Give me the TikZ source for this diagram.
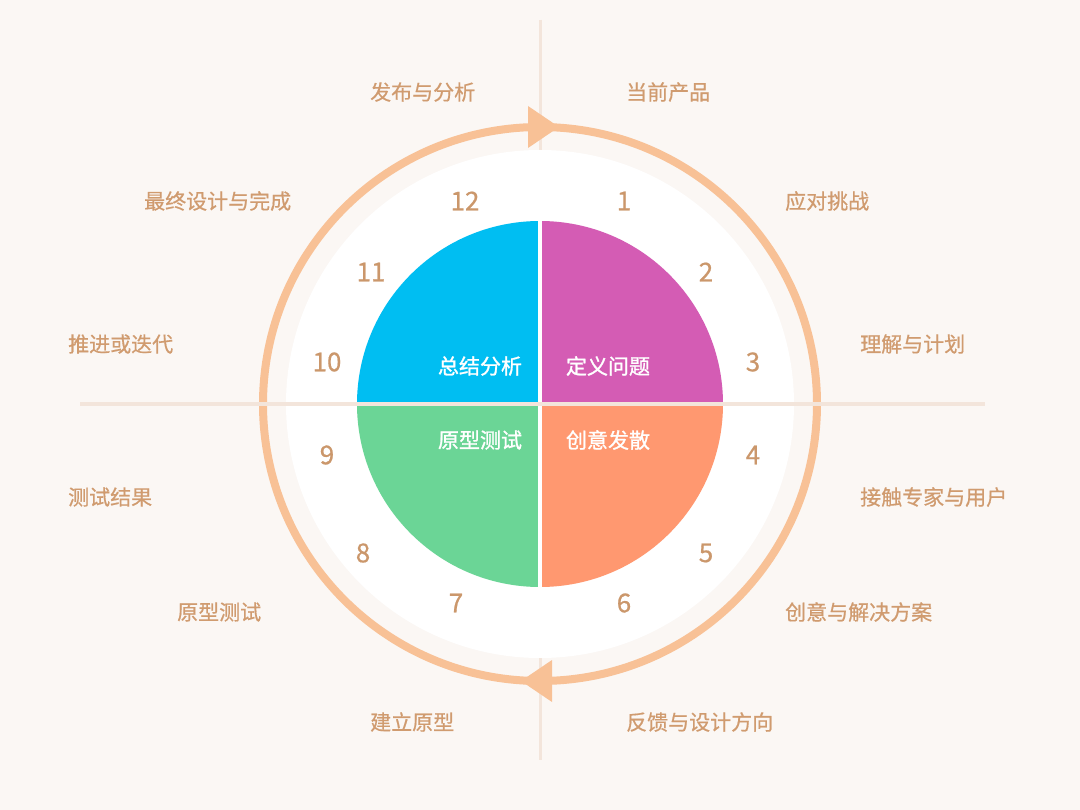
\documentclass[tikz,border=0pt]{standalone}
\usepackage{fontspec}
\setmainfont{Noto Sans CJK SC}
\newfontfamily\medcjk[FakeBold=0.6]{Noto Sans CJK SC}
\newfontfamily\boldcjk[FakeBold=1.2]{Noto Sans CJK SC}
\definecolor{bgcream}{HTML}{FBF7F4}
\definecolor{gridline}{HTML}{F3E5DB}
\definecolor{ringorange}{HTML}{F8C196}
\definecolor{labelbrown}{HTML}{D09B6F}
\definecolor{numbrown}{HTML}{CB976B}
\definecolor{quadblue}{HTML}{00BEF2}
\definecolor{quadpink}{HTML}{D45CB4}
\definecolor{quadgreen}{HTML}{6BD596}
\definecolor{quadorange}{HTML}{FF9870}

\begin{document}
\begin{tikzpicture}[x=1pt,y=-1pt,
  step label/.style={anchor=west,inner sep=0pt,text=labelbrown,font=\medcjk\fontsize{21}{24}\selectfont},
  num node/.style={inner sep=0pt,text=numbrown,font=\medcjk\fontsize{26}{30}\selectfont},
  quad text/.style={inner sep=0pt,text=white,font=\boldcjk\fontsize{21}{24}\selectfont}]

 \useasboundingbox (0,0) rectangle (1080,810);
 \fill[bgcream] (0,0) rectangle (1080,810);

 % vertical line behind the disk
 \draw[gridline,line width=3] (540,20) -- (540,760);

 \fill[white] (540,404) circle[radius=254];

 % four quarters
 \fill[quadblue]   (540,404) -- ++(180:183) arc[start angle=180,end angle=270,radius=183] -- cycle;
 \fill[quadpink]   (540,404) -- ++(270:183) arc[start angle=270,end angle=360,radius=183] -- cycle;
 \fill[quadorange] (540,404) -- ++(0:183)   arc[start angle=0,end angle=90,radius=183] -- cycle;
 \fill[quadgreen]  (540,404) -- ++(90:183)  arc[start angle=90,end angle=180,radius=183] -- cycle;
 \draw[white,line width=4] (540,218) -- (540,590);

 % ring and its two heads
 \draw[ringorange,line width=8] (540,404) circle[radius=277];
 \fill[ringorange] (528,106) -- (559,127) -- (528,148) -- cycle;
 \fill[ringorange] (552,660) -- (521,681) -- (552,702) -- cycle;

 % horizontal line on top
 \draw[gridline,line width=4] (80,404) -- (985,404);

 \node[quad text] (q1) at (480,366) {总结分析};
 \node[quad text] (q2) at (608,366) {定义问题};
 \node[quad text] (q3) at (480,440) {原型测试};
 \node[quad text] (q4) at (608,440) {创意发散};

 \node[num node] (n12) at (465,201) {12};
 \node[num node] (n1)  at (624,201) {1};
 \node[num node] (n11) at (371,272) {11};
 \node[num node] (n2)  at (706,272) {2};
 \node[num node] (n10) at (327,362) {10};
 \node[num node] (n3)  at (753,362) {3};
 \node[num node] (n9)  at (327,455) {9};
 \node[num node] (n4)  at (753,455) {4};
 \node[num node] (n8)  at (363,553) {8};
 \node[num node] (n5)  at (706,553) {5};
 \node[num node] (n7)  at (456,603) {7};
 \node[num node] (n6)  at (624,603) {6};

 \node[step label] (l12) at (370,92)  {发布与分析};
 \node[step label] (l1)  at (626,92)  {当前产品};
 \node[step label] (l11) at (144,201) {最终设计与完成};
 \node[step label] (l2)  at (785,201) {应对挑战};
 \node[step label] (l10) at (68,344)  {推进或迭代};
 \node[step label] (l3)  at (860,344) {理解与计划};
 \node[step label] (l9)  at (68,497)  {测试结果};
 \node[step label] (l4)  at (860,497) {接触专家与用户};
 \node[step label] (l8)  at (177,612) {原型测试};
 \node[step label] (l5)  at (785,612) {创意与解决方案};
 \node[step label] (l7)  at (370,722) {建立原型};
 \node[step label] (l6)  at (626,722) {反馈与设计方向};

\end{tikzpicture}
\end{document}
